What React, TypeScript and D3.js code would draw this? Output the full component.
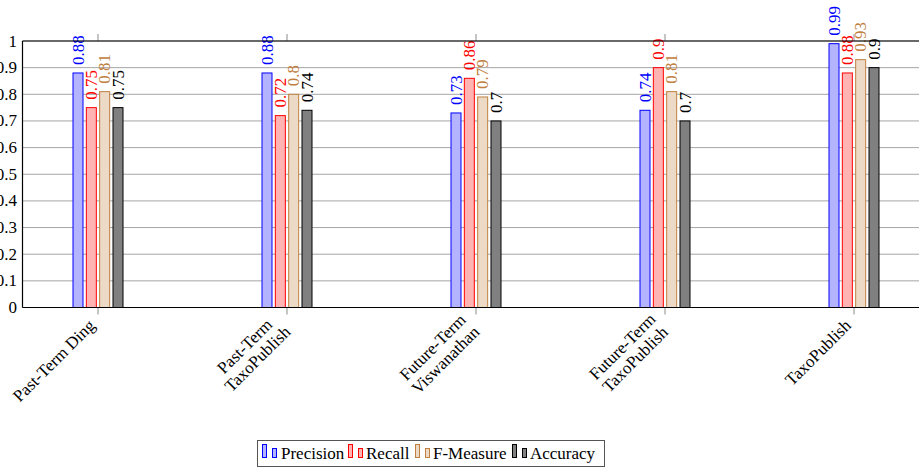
import React, { useLayoutEffect, useRef, useState } from "react";
import * as d3 from "d3";

const categories: string[][] = [
  ["Past-Term Ding"],
  ["Past-Term", "TaxoPublish"],
  ["Future-Term", "Viswanathan"],
  ["Future-Term", "TaxoPublish"],
  ["TaxoPublish"],
];
const seriesNames = ["Precision", "Recall", "F-Measure", "Accuracy"];
const precision = [0.88, 0.88, 0.73, 0.74, 0.99];
const recall = [0.75, 0.72, 0.86, 0.9, 0.88];
const fMeasure = [0.81, 0.8, 0.79, 0.81, 0.93];
const accuracy = [0.75, 0.74, 0.7, 0.7, 0.9];
const yTicks = [0, 0.1, 0.2, 0.3, 0.4, 0.5, 0.6, 0.7, 0.8, 0.9, 1];

const seriesValues = [precision, recall, fMeasure, accuracy];
const strokes = ["#0000ff", "#ff0000", "#bf8040", "#000000"];
const fills = ["#b3b3ff", "#ffb3b3", "#ecd9c6", "#808080"];

const W = 919;
const H = 468;
const FONT = "'Liberation Serif', 'Times New Roman', serif";
const FS = 17;
const LINE_H = 18;

export default function App() {
  const left = 22.5;
  const right = 930;
  const top = 41;
  const bottom = 307.5;

  const x = d3
    .scalePoint<number>()
    .domain(d3.range(categories.length))
    .range([98, 854]);
  const y = d3.scaleLinear().domain([0, 1]).range([bottom, top]);
  const offset = d3
    .scalePoint<number>()
    .domain(d3.range(seriesNames.length))
    .range([-20, 20]);
  const barW = 10;

  // widest line of each category label block, measured after layout
  const labelRefs = useRef<(SVGGElement | null)[]>([]);
  const [blockW, setBlockW] = useState<number[]>(
    categories.map((lines) => d3.max(lines, (l) => l.length * FS * 0.45) ?? 0)
  );
  useLayoutEffect(() => {
    const next = categories.map((_, i) => {
      const g = labelRefs.current[i];
      if (!g) return blockW[i];
      const texts = Array.from(g.querySelectorAll("text")) as SVGTextElement[];
      return d3.max(texts, (t) => t.getComputedTextLength()) ?? blockW[i];
    });
    if (next.some((w, i) => Math.abs(w - blockW[i]) > 0.5)) setBlockW(next);
  });

  const legendItems = [
    { x: 262, tx: 281 },
    { x: 348, tx: 366 },
    { x: 415, tx: 433 },
    { x: 512, tx: 530 },
  ];

  return (
    <svg
      width={W}
      height={H}
      style={{ position: "absolute", left: 0, top: 0, background: "#fff" }}
      fontFamily={FONT}
    >
      {/* horizontal grid */}
      {yTicks.map((t) => (
        <line
          key={"g" + t}
          x1={left}
          x2={right}
          y1={y(t)}
          y2={y(t)}
          stroke="#a6a6a6"
          strokeWidth={1}
        />
      ))}
      {/* x tick marks, outside top and bottom */}
      {categories.map((_, i) => (
        <g key={"xt" + i} stroke="#8c8c8c" strokeWidth={1}>
          <line x1={x(i)} x2={x(i)} y1={bottom} y2={bottom + 7} />
          <line x1={x(i)} x2={x(i)} y1={top} y2={top - 7} />
        </g>
      ))}
      {/* bars */}
      {seriesValues.map((vals, s) =>
        vals.map((v, i) => {
          const cx = (x(i) as number) + (offset(s) as number);
          return (
            <rect
              key={`b${s}-${i}`}
              x={cx - barW / 2}
              y={y(v)}
              width={barW}
              height={bottom - y(v)}
              fill={fills[s]}
              stroke={strokes[s]}
              strokeWidth={1}
            />
          );
        })
      )}
      {/* value labels */}
      {seriesValues.map((vals, s) =>
        vals.map((v, i) => {
          const cx = (x(i) as number) + (offset(s) as number);
          const ty = y(v) - 8;
          return (
            <text
              key={`l${s}-${i}`}
              transform={`translate(${cx},${ty}) rotate(-90)`}
              fill={strokes[s]}
              fontSize={FS}
              dominantBaseline="central"
              textAnchor="start"
            >
              {String(v)}
            </text>
          );
        })
      )}
      {/* axes frame */}
      <line x1={left} x2={right} y1={bottom} y2={bottom} stroke="#000" strokeWidth={1.2} />
      <line x1={left} x2={right} y1={top} y2={top} stroke="#000" strokeWidth={1.2} />
      <line x1={left} x2={left} y1={top} y2={bottom} stroke="#000" strokeWidth={1.2} />
      {/* y tick labels */}
      {yTicks.map((t) => (
        <text
          key={"yl" + t}
          x={17}
          y={y(t)}
          textAnchor="end"
          dominantBaseline="central"
          fontSize={FS}
          fill="#000"
        >
          {String(t)}
        </text>
      ))}
      {/* x category labels: rotated blocks, lines centred, anchored at the block's east side */}
      {categories.map((lines, i) => {
        const maxW = blockW[i];
        const h = lines.length * LINE_H;
        const ax = (x(i) as number) - 5;
        const ay = bottom + 16;
        return (
          <g
            key={"xl" + i}
            ref={(el) => {
              labelRefs.current[i] = el;
            }}
            transform={`translate(${ax},${ay}) rotate(-45)`}
          >
            {lines.map((ln, k) => (
              <text
                key={k}
                x={-maxW / 2}
                y={-h / 2 + k * LINE_H + LINE_H * 0.74}
                textAnchor="middle"
                fontSize={FS}
                fill="#000"
              >
                {ln}
              </text>
            ))}
          </g>
        );
      })}
      {/* legend */}
      <rect x={257.5} y={440.5} width={347} height={26} fill="#fff" stroke="#555" strokeWidth={1} />
      {seriesNames.map((name, s) => (
        <g key={"lg" + s}>
          <rect
            x={legendItems[s].x + 0.5}
            y={444.5}
            width={4}
            height={13}
            fill={fills[s]}
            stroke={strokes[s]}
          />
          <rect
            x={legendItems[s].x + 10.5}
            y={448.5}
            width={4}
            height={9}
            fill={fills[s]}
            stroke={strokes[s]}
          />
          <text x={legendItems[s].tx} y={458.5} fontSize={FS} fill="#000">
            {name}
          </text>
        </g>
      ))}
    </svg>
  );
}
